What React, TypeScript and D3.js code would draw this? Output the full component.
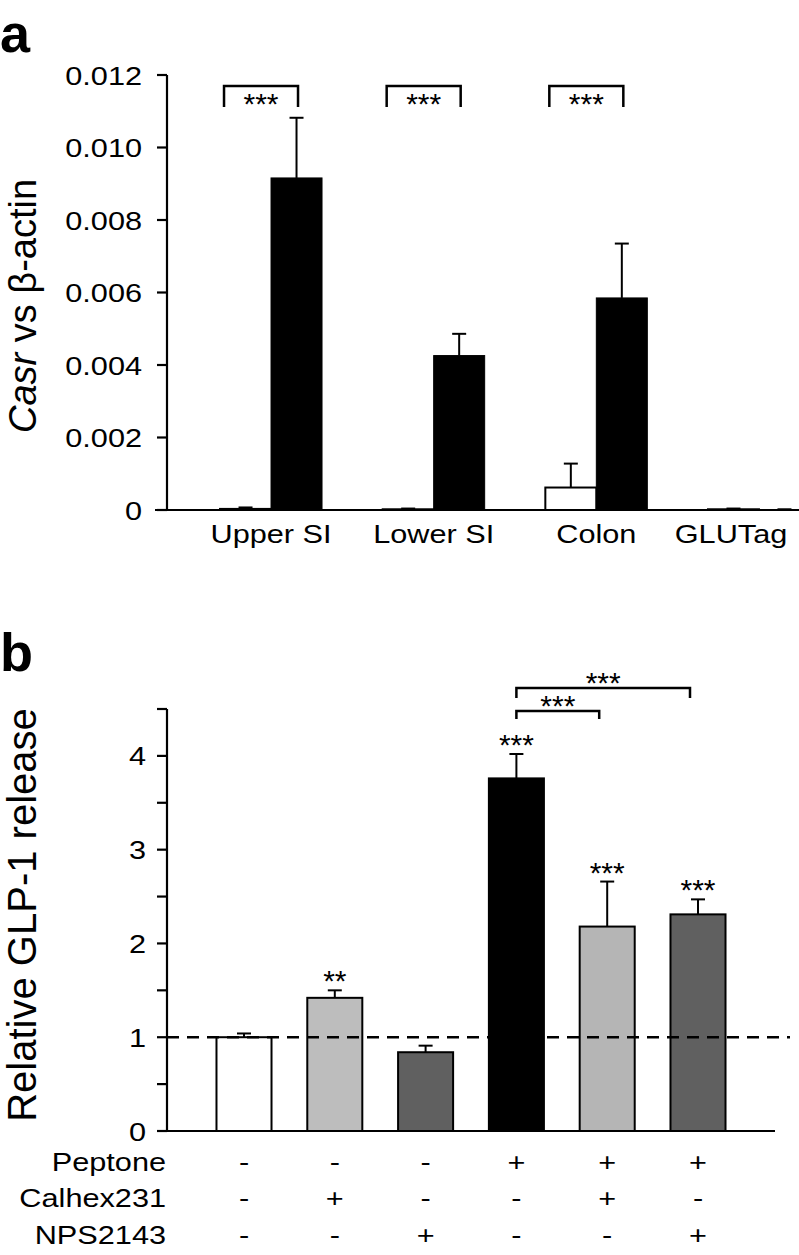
import React from 'react';
import * as d3 from 'd3';

const FONT = "'Liberation Sans', Arial, Helvetica, sans-serif";
const SX = 1.18; // the scanned figure is a bit wider than tall

// panel a
const tissues = ['Upper SI', 'Lower SI', 'Colon', 'GLUTag'];
const negMean = [0.00003, 0.00002, 0.00062, 0.00002];
const negErr = [0.00004, 0.00002, 0.00066, 0.00002];
const posMean = [0.00916, 0.00426, 0.00585, 0.00001];
const posErr = [0.00166, 0.0006, 0.0015, 0.00001];
const ticksA = [0, 0.002, 0.004, 0.006, 0.008, 0.01, 0.012];
const tickLabelsA = ['0', '0.002', '0.004', '0.006', '0.008', '0.010', '0.012'];
const bracketsA = ['***', '***', '***', ''];

// panel b
const treatments = ['c1', 'c2', 'c3', 'c4', 'c5', 'c6'];
const relMean = [1.0, 1.42, 0.84, 3.76, 2.18, 2.31];
const relErr = [0.04, 0.08, 0.07, 0.26, 0.48, 0.16];
const barFill = ['#ffffff', '#bdbdbd', '#606060', '#000000', '#b5b5b5', '#606060'];
const starsB = ['', '**', '', '***', '***', '***'];
const rowLabels = ['Peptone', 'Calhex231', 'NPS2143'];
const peptone = ['-', '-', '-', '+', '+', '+'];
const calhex = ['-', '+', '-', '-', '+', '-'];
const nps = ['-', '-', '+', '-', '-', '+'];
const ticksB = [0, 0.5, 1, 1.5, 2, 2.5, 3, 3.5, 4, 4.5];
const tickLabelsB = ['0', '', '1', '', '2', '', '3', '', '4', ''];
const compareB = [[3, 4], [3, 5]];

const T = ({ x, y, size = 26, anchor = 'middle', sx = SX, children, ...rest }: any) => (
  <text
    transform={`translate(${x},${y}) scale(${sx},1)`}
    textAnchor={anchor}
    fontSize={size}
    fontFamily={FONT}
    fill="#000"
    {...rest}
  >
    {children}
  </text>
);

// asterisks, y is the visual centre of the glyphs
const Stars = ({ x, y, s }: any) => (
  <T x={x} y={y + 15} size={30} sx={1}>{s}</T>
);

const PanelA = () => {
  const axisX = 167;
  const y = d3.scaleLinear().domain([0, 0.012]).range([510, 75]);
  const x = d3.scaleBand().domain(tissues).range([189.7, 840.3]).paddingInner(0.373).paddingOuter(0.1865);
  const sub = d3.scaleBand().domain(['neg', 'pos']).range([0, x.bandwidth()]);
  const bw = sub.bandwidth();

  return (
    <g>
      <T x={0} y={52} size={54} anchor="start" sx={1} fontWeight="bold">a</T>
      <text transform="translate(36,306) rotate(-90)" textAnchor="middle" fontSize={38} fontFamily={FONT}>
        <tspan fontStyle="italic">Casr</tspan> vs β-actin
      </text>
      {/* y axis */}
      <line x1={axisX} x2={axisX} y1={y(0.012)} y2={y(0)} stroke="#000" strokeWidth={2.2} />
      {ticksA.map((t, i) => (
        <g key={i}>
          <line x1={axisX - 10} x2={axisX} y1={y(t)} y2={y(t)} stroke="#000" strokeWidth={2.2} />
          <T x={142} y={y(t) + 9.5} anchor="end">{tickLabelsA[i]}</T>
        </g>
      ))}
      {tissues.map((c, i) => {
        const x0 = x(c)!;
        const xn = x0 + sub('neg')!;
        const xp = x0 + sub('pos')!;
        const mid = x0 + x.bandwidth() / 2;
        const lbl = Math.min(mid, 799 - 68);
        return (
          <g key={c}>
            <line x1={xn + bw / 2} x2={xn + bw / 2} y1={y(negMean[i])} y2={y(negMean[i] + negErr[i])} stroke="#000" strokeWidth={2} />
            <line x1={xn + bw / 2 - 7} x2={xn + bw / 2 + 7} y1={y(negMean[i] + negErr[i])} y2={y(negMean[i] + negErr[i])} stroke="#000" strokeWidth={2} />
            <line x1={xp + bw / 2} x2={xp + bw / 2} y1={y(posMean[i])} y2={y(posMean[i] + posErr[i])} stroke="#000" strokeWidth={2} />
            <line x1={xp + bw / 2 - 7} x2={xp + bw / 2 + 7} y1={y(posMean[i] + posErr[i])} y2={y(posMean[i] + posErr[i])} stroke="#000" strokeWidth={2} />
            <rect x={xn} y={y(negMean[i])} width={bw} height={y(0) - y(negMean[i])} fill="#fff" stroke="#000" strokeWidth={2} />
            <rect x={xp} y={y(posMean[i])} width={bw} height={y(0) - y(posMean[i])} fill="#000" stroke="#000" strokeWidth={1} />
            <T x={lbl} y={543}>{c}</T>
            {bracketsA[i] && (
              <g>
                <path d={`M${mid - 47},107V86H${mid + 27}V107`} fill="none" stroke="#000" strokeWidth={2.5} />
                <Stars x={mid - 10} y={99} s={bracketsA[i]} />
              </g>
            )}
          </g>
        );
      })}
      <line x1={155} x2={799} y1={y(0)} y2={y(0)} stroke="#000" strokeWidth={2.2} />
    </g>
  );
};

const PanelB = () => {
  const axisX = 167;
  const y = d3.scaleLinear().domain([0, 4.5]).range([1131, 709]);
  const x = d3.scaleBand().domain(treatments).range([198.6, 743.4]).paddingInner(0.394).paddingOuter(0.197);
  const bw = x.bandwidth();
  const cx = (i: number) => x(treatments[i])! + bw / 2;
  const rows = [peptone, calhex, nps];
  const rowY = [1171, 1207, 1244];
  const levels = [{ y: 711, leg: 8 }, { y: 688, leg: 10 }];

  return (
    <g>
      <T x={0} y={671} size={54} anchor="start" sx={1} fontWeight="bold">b</T>
      <text transform="translate(36,915) rotate(-90)" textAnchor="middle" fontSize={40} fontFamily={FONT}>
        Relative GLP-1 release
      </text>
      <line x1={axisX} x2={axisX} y1={y(4.5)} y2={y(0)} stroke="#000" strokeWidth={2.2} />
      {ticksB.map((t, i) => (
        <g key={i}>
          <line x1={axisX - 10} x2={axisX} y1={y(t)} y2={y(t)} stroke="#000" strokeWidth={2.2} />
          {tickLabelsB[i] && <T x={146} y={y(t) + 9.5} anchor="end">{tickLabelsB[i]}</T>}
        </g>
      ))}
      {treatments.map((c, i) => {
        const top = y(relMean[i] + relErr[i]);
        return (
          <g key={c}>
            <line x1={cx(i)} x2={cx(i)} y1={y(relMean[i])} y2={top} stroke="#000" strokeWidth={2} />
            <line x1={cx(i) - 7} x2={cx(i) + 7} y1={top} y2={top} stroke="#000" strokeWidth={2} />
            <rect x={x(c)} y={y(relMean[i])} width={bw} height={y(0) - y(relMean[i])} fill={barFill[i]} stroke="#000" strokeWidth={2} />
            {starsB[i] && <Stars x={cx(i)} y={top - 14} s={starsB[i]} />}
          </g>
        );
      })}
      <line x1={axisX} x2={790} y1={y(1)} y2={y(1)} stroke="#000" strokeWidth={2.5} strokeDasharray="12 8" />
      <line x1={164} x2={775} y1={y(0)} y2={y(0)} stroke="#000" strokeWidth={2.2} />
      {compareB.map(([a, b], k) => {
        const x1 = cx(a);
        const x2 = cx(b) - 8;
        const ly = levels[k].y;
        return (
          <g key={k}>
            <path d={`M${x1},${ly + levels[k].leg}V${ly}H${x2}V${ly + levels[k].leg}`} fill="none" stroke="#000" strokeWidth={2.5} />
            <Stars x={(x1 + x2) / 2} y={ly - 10} s="***" />
          </g>
        );
      })}
      {rowLabels.map((r, j) => (
        <g key={r}>
          <T x={166} y={rowY[j]} anchor="end">{r}</T>
          {rows[j].map((s, i) => (
            <T key={i} x={cx(i)} y={rowY[j]}>{s}</T>
          ))}
        </g>
      ))}
    </g>
  );
};

export default function App() {
  return (
    <svg width={799} height={1255} style={{ position: 'absolute', left: 0, top: 0, background: '#fff' }}>
      <rect width={799} height={1255} fill="#fff" />
      <PanelA />
      <PanelB />
    </svg>
  );
}
